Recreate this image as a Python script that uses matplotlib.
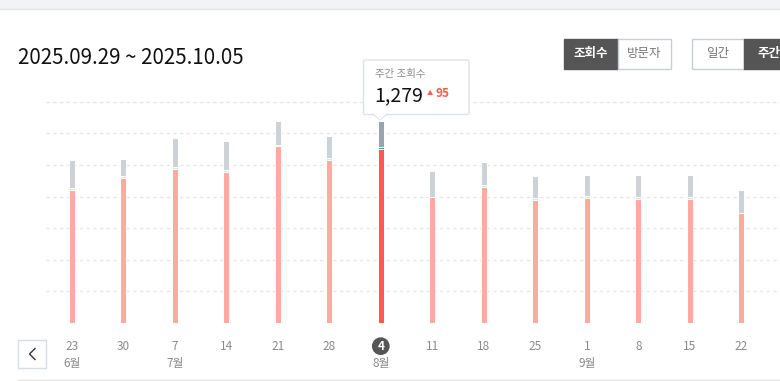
import matplotlib.pyplot as plt
from matplotlib.patches import Rectangle, FancyBboxPatch, Polygon
from matplotlib.lines import Line2D
from matplotlib.transforms import blended_transform_factory
import numpy as np

plt.rcParams['font.family'] = ['Noto Sans CJK KR', 'DejaVu Sans']

# weekly views data (week start day, month label)
weeks = ['23', '30', '7', '14', '21', '28', '4', '11', '18', '25', '1', '8', '15', '22']
months = ['6월', '', '7월', '', '', '', '8월', '', '', '', '9월', '', '', '']
total = [1032, 1037, 1170, 1149, 1276, 1184, 1279, 960, 1018, 929, 937, 935, 935, 840]
red = [841, 916, 975, 956, 1117, 1032, 1100, 799, 861, 778, 789, 784, 784, 693]
teal = [14, 14, 14, 14, 8, 14, 14, 0, 14, 14, 14, 14, 14, 0]
gray = [t - r - m for t, r, m in zip(total, red, teal)]
selected = 6

W, H = 780, 381
fig = plt.figure(figsize=(7.8, 3.81), dpi=100)


def fx(x):
    return x / W


def fy(y):
    return 1 - y / H


# top band
fig.patches.append(Rectangle((0, fy(8.5)), 1, 8.5 / H, transform=fig.transFigure,
                             fc='#f1f3f6', ec='none'))
fig.lines.append(Line2D([0, 1], [fy(9), fy(9)], transform=fig.transFigure,
                        color='#e1e4ea', lw=1))

# chart axes
ax = fig.add_axes([fx(46), fy(323), fx(780) - fx(46), (323 - 101.7) / H])
x = np.arange(len(weeks))
red_c = ['#ffaaa0'] * len(weeks)
teal_c = ['#c4efe6'] * len(weeks)
gray_c = ['#cdd2d6'] * len(weeks)
red_c[selected] = '#ff5a48'
teal_c[selected] = '#19b59a'
gray_c[selected] = '#9ba4ad'

bw = 0.118
ax.bar(x, red, bw, color=red_c, edgecolor='white', linewidth=0.7, zorder=3)
ax.bar(x, teal, bw, bottom=red, color=teal_c, edgecolor='white', linewidth=0.7, zorder=3)
ax.bar(x, gray, bw, bottom=np.array(red) + np.array(teal), color=gray_c,
       edgecolor='white', linewidth=0.7, zorder=3)

ax.set_xlim(-0.499, 13.75)
ax.set_ylim(0, 1400)
ax.set_yticks(np.arange(200, 1401, 200))
ax.yaxis.grid(True, linestyle=(0, (2.6, 2.2)), color='#e6e6e6', lw=1)
for gl in ax.get_ygridlines():
    gl.set_clip_on(False)
ax.set_axisbelow(True)
ax.tick_params(axis='y', length=0, labelleft=False)
for s in ax.spines.values():
    s.set_visible(False)

ax.set_xticks(x, weeks)
ax.tick_params(axis='x', length=0, pad=12, labelsize=8.5, labelcolor='#8a8a8a')
lab = ax.get_xticklabels()[selected]
lab.set_color('white')
lab.set_fontweight('bold')
lab.set_bbox(dict(boxstyle='circle,pad=0.2', fc='#555555', ec='none'))

tr = blended_transform_factory(ax.transData, fig.transFigure)
for i, m in enumerate(months):
    if m:
        ax.text(i, fy(364), m, transform=tr, ha='center', va='center',
                fontsize=8.5, color='#8a8a8a')

# title
fig.text(fx(18), fy(58), '2025.09.29 ~ 2025.10.05', fontsize=14.8, va='center',
         color='#111111', fontweight='medium')

# toggle buttons
buttons = [(564, 618, '조회수', True), (618, 671, '방문자', False),
           (692, 744, '일간', False), (744, 800, '주간', True)]
for x0, x1, txt, on in buttons:
    fig.patches.append(Rectangle((fx(x0), fy(69)), fx(x1) - fx(x0), 30 / H,
                                 transform=fig.transFigure,
                                 fc='#555555' if on else 'white',
                                 ec='#555555' if on else '#c8cdd7', lw=1))
    cx = (x0 + x1) / 2 if x1 <= 780 else 769
    fig.text(fx(cx), fy(54), txt, ha='center', va='center', fontsize=9,
             color='white' if on else '#777777',
             fontweight='bold' if on else 'normal')

# tooltip
fig.patches.append(FancyBboxPatch((fx(363.5), fy(114.5)), fx(469) - fx(363.5), (114.5 - 60) / H,
                                  boxstyle='round,pad=0,rounding_size=0.003',
                                  transform=fig.transFigure, fc='white', ec='#dfe2e8', lw=1,
                                  zorder=5))
fig.patches.append(Polygon([(fx(374), fy(114)), (fx(386), fy(114)), (fx(380), fy(119.5))],
                           closed=True, transform=fig.transFigure, fc='white', ec='none',
                           zorder=6))
fig.lines.append(Line2D([fx(374), fx(380), fx(386)], [fy(114.5), fy(120), fy(114.5)],
                        transform=fig.transFigure, color='#dfe2e8', lw=1, zorder=6))
fig.text(fx(375), fy(74), '주간 조회수', fontsize=7.5, color='#8a8a8a', va='center', zorder=7)
fig.text(fx(374), fy(95.5), '1,279', fontsize=14, color='#111111', va='center', zorder=7)
fig.text(fx(427), fy(93), '▲', fontsize=4.5, color='#ff5a48', va='center', zorder=7)
fig.text(fx(436), fy(93.5), '95', fontsize=8.5, color='#ff5a48', va='center',
         fontweight='bold', zorder=7)

# prev arrow button
fig.patches.append(Rectangle((fx(18), fy(367.5)), fx(45.5) - fx(18), 27.5 / H,
                             transform=fig.transFigure, fc='white', ec='#d8dce4', lw=1))
fig.lines.append(Line2D([fx(35), fx(29.5), fx(35)], [fy(348.5), fy(354), fy(359.5)],
                        transform=fig.transFigure, color='#333333', lw=1))

# bottom rule
fig.lines.append(Line2D([fx(18), 1], [fy(380.3), fy(380.3)], transform=fig.transFigure,
                        color='#e2e2e2', lw=1))

fig.savefig('out.png', dpi=100, facecolor='white')
